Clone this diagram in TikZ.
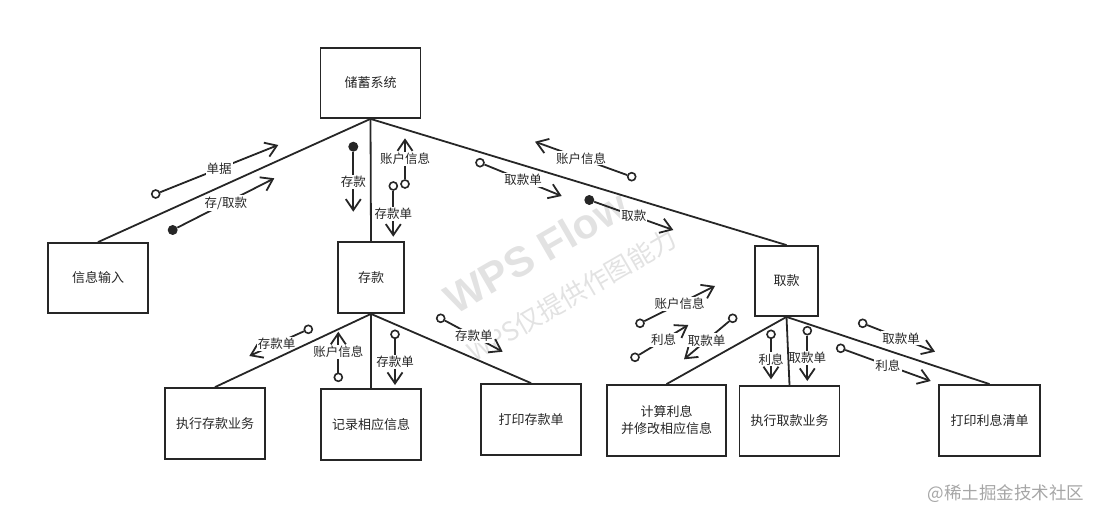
\documentclass[tikz,border=0pt]{standalone}
\usepackage{fontspec}
\setmainfont{Noto Sans CJK SC}
\newfontfamily\wpsfont{Liberation Sans}
\usetikzlibrary{arrows.meta}

\definecolor{ink}{HTML}{262626}
\definecolor{wmark}{HTML}{E2E2E2}

\tikzset{
  box/.style={draw=ink,line width=1.8pt,minimum width=100pt,minimum height=70pt,
    align=center,text=ink,font=\fontsize{13}{17}\selectfont},
  link/.style={draw=ink,line width=1.8pt},
  flow/.style={draw=ink,line width=1.8pt,-{Straight Barb[length=11pt,width=15pt]}},
  opendot/.style={circle,draw=ink,line width=1.6pt,fill=white,inner sep=0pt,minimum size=8pt},
  fulldot/.style={circle,fill=ink,inner sep=0pt,minimum size=10pt},
  lbl/.style={fill=white,inner sep=1.2pt,text=ink,font=\fontsize{12.5}{14}\selectfont},
}

\begin{document}
\begin{tikzpicture}[x=1pt,y=-1pt]
  \useasboundingbox (0,0) rectangle (1102,521);

  % watermark
  \node[rotate=30,text=wmark,font=\wpsfont\bfseries\fontsize{42}{42}\selectfont] (wm1) at (536,252) {WPS Flow};
  \node[rotate=30,text=wmark,font=\fontsize{26}{26}\selectfont] (wm2) at (572,295) {WPS仅提供作图能力};

  % boxes
  \node[box] (sys) at (370.5,83) {储蓄系统};
  \node[box] (input) at (98,278) {信息输入};
  \node[box,minimum width=66pt,minimum height=71pt] (dep) at (371,277.5) {存款};
  \node[box,minimum width=63pt] (wd) at (786.5,281) {取款};
  \node[box,minimum height=71pt] (dexec) at (215,423.5) {执行存款业务};
  \node[box,minimum height=71pt] (drec) at (371,424.5) {记录相应信息};
  \node[box,minimum height=71pt] (dprint) at (531,419.5) {打印存款单};
  \node[box,minimum width=119pt,minimum height=71pt] (wcalc) at (666.5,420.5) {计算利息\\并修改相应信息};
  \node[box] (wexec) at (789.5,421) {执行取款业务};
  \node[box,minimum width=101pt,minimum height=71pt] (wprint) at (989.5,420.5) {打印利息清单};

  % flows: 储蓄系统 -- 信息输入
  \node[opendot] (f1) at (155.7,194) {};
  \coordinate (t1) at (278.3,145);
  \draw[flow] (f1) -- node[lbl] {单据} (t1);
  \node[fulldot] (f2) at (172.7,230) {};
  \coordinate (t2) at (274.3,178.3);
  \draw[flow] (f2) -- node[lbl] {存/取款} (t2);

  % flows: 储蓄系统 -- 存款
  \node[fulldot] (f3) at (353.3,146.7) {};
  \coordinate (t3) at (353.3,211.7);
  \draw[flow] (f3) -- node[lbl] {存款} (t3);
  \node[opendot] (f4) at (405,184) {};
  \coordinate (t4) at (405,138.3);
  \draw[flow] (f4) -- node[lbl] {账户信息} (t4);
  \node[opendot] (f5) at (393.3,186) {};
  \coordinate (t5) at (393.3,236.7);
  \draw[flow] (f5) -- node[lbl] {存款单} (t5);

  % flows: 储蓄系统 -- 取款
  \node[opendot] (f6) at (480,162.7) {};
  \coordinate (t6) at (561.7,196);
  \draw[flow] (f6) -- node[lbl] {取款单} (t6);
  \node[opendot] (f7) at (631.7,176.7) {};
  \coordinate (t7) at (535,141.7);
  \draw[flow] (f7) -- node[lbl] {账户信息} (t7);
  \node[fulldot] (f8) at (589.3,200) {};
  \coordinate (t8) at (673.3,230);
  \draw[flow] (f8) -- node[lbl] {取款} (t8);

  % flows: 存款 -- children
  \node[opendot] (f9) at (308.3,329.3) {};
  \coordinate (t9) at (249.3,356);
  \draw[flow] (f9) -- node[lbl] {存款单} (t9);
  \node[opendot] (f10) at (338.3,377.3) {};
  \coordinate (t10) at (338.3,331.7);
  \draw[flow] (f10) -- node[lbl] {账户信息} (t10);
  \node[opendot] (f11) at (395,334.3) {};
  \coordinate (t11) at (395,385);
  \draw[flow] (f11) -- node[lbl] {存款单} (t11);
  \node[opendot] (f12) at (440.7,318.3) {};
  \coordinate (t12) at (502.7,351.7);
  \draw[flow] (f12) -- node[lbl] {存款单} (t12);

  % flows: 取款 -- children
  \node[opendot] (f13) at (640,323.3) {};
  \coordinate (t13) at (715,286);
  \draw[flow] (f13) -- node[lbl] {账户信息} (t13);
  \node[opendot] (f14) at (635,357.3) {};
  \coordinate (t14) at (688.3,325);
  \draw[flow] (f14) -- node[lbl] {利息} (t14);
  \node[opendot] (f15) at (732.7,318.3) {};
  \coordinate (t15) at (684,359.3);
  \draw[flow] (f15) -- node[lbl] {取款单} (t15);
  \node[opendot] (f16) at (771,334.3) {};
  \coordinate (t16) at (771,379.3);
  \draw[flow] (f16) -- node[lbl] {利息} (t16);
  \node[opendot] (f17) at (807.3,330.7) {};
  \coordinate (t17) at (807.3,381);
  \draw[flow] (f17) -- node[lbl] {取款单} (t17);
  \node[opendot] (f18) at (862.7,323.3) {};
  \coordinate (t18) at (935,351.7);
  \draw[flow] (f18) -- node[lbl] {取款单} (t18);
  \node[opendot] (f19) at (840.7,348.3) {};
  \coordinate (t19) at (930.7,381);
  \draw[flow] (f19) -- node[lbl] {利息} (t19);

  % tree links
  \draw[link] (sys.south) -- (input.north);
  \draw[link] (sys.south) -- (dep.north);
  \draw[link] (sys.south) -- (wd.north);
  \foreach \kid in {dexec,drec,dprint}
    \draw[link] (dep.south) -- (\kid.north);
  \foreach \kid in {wcalc,wexec,wprint}
    \draw[link] (wd.south) -- (\kid.north);

  \node[text=black!35,font=\fontsize{17.5}{18}\selectfont] (site) at (1006,494) {@稀土掘金技术社区};
\end{tikzpicture}
\end{document}
